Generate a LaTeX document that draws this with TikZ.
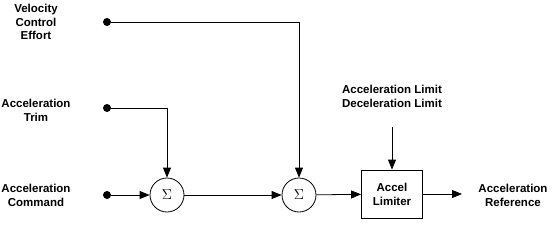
\documentclass[tikz,border=0pt]{standalone}
\usepackage{fontspec}
\setmainfont{Liberation Sans}
\usetikzlibrary{positioning,arrows.meta}

\begin{document}
\begin{tikzpicture}[x=1pt, y=-1pt,
    label/.style={align=center, font=\fontsize{11.5}{13.8}\selectfont\bfseries},
    sumnode/.style={circle, draw, line width=0.8pt, minimum size=34pt, inner sep=0pt, font=\fontsize{15}{15}\selectfont},
    limiter/.style={rectangle, draw, line width=0.8pt, minimum width=61pt, minimum height=48pt, align=center, font=\fontsize{11.5}{13.8}\selectfont\bfseries},
    dot/.style={circle, fill, minimum size=8pt, inner sep=0pt},
    arrow/.style={-{Triangle[length=10pt, width=8pt]}, line width=0.8pt}]
\useasboundingbox (0,0) rectangle (552,225);

% Inputs
\node[dot] (vel) at (107, 22) {};
\node[dot] (trim) at (107, 108) {};
\node[dot] (cmd) at (107, 195) {};
\node[label] (vellbl) at (36, 22) {Velocity\\Control\\Effort};
\node[label] (trimlbl) at (36, 110) {Acceleration\\Trim};
\node[label] (cmdlbl) at (36, 195) {Acceleration\\Command};

% Summing junctions and limiter
\node[sumnode] (sum1) at (167, 195) {$\Sigma$};
\node[sumnode] (sum2) at (299, 195) {$\Sigma$};
\node[limiter] (lim) at (392, 194) {Accel\\Limiter};
\node[label] (limits) at (392, 96) {Acceleration Limit\\Deceleration Limit};
\coordinate (limin) at (392, 127);
\coordinate (out) at (462, 194);
\node[label] (ref) at (513, 195) {Acceleration\\Reference};

\draw[arrow] (cmd) -- (sum1);
\draw[arrow] (trim) -| (sum1);
\draw[arrow] (vel) -| (sum2);
\draw[arrow] (sum1) -- (sum2);
\draw[arrow] (sum2) -- (lim);
\draw[arrow] (limin) -- (lim);
\draw[arrow] (lim) -- (out);

\end{tikzpicture}
\end{document}
